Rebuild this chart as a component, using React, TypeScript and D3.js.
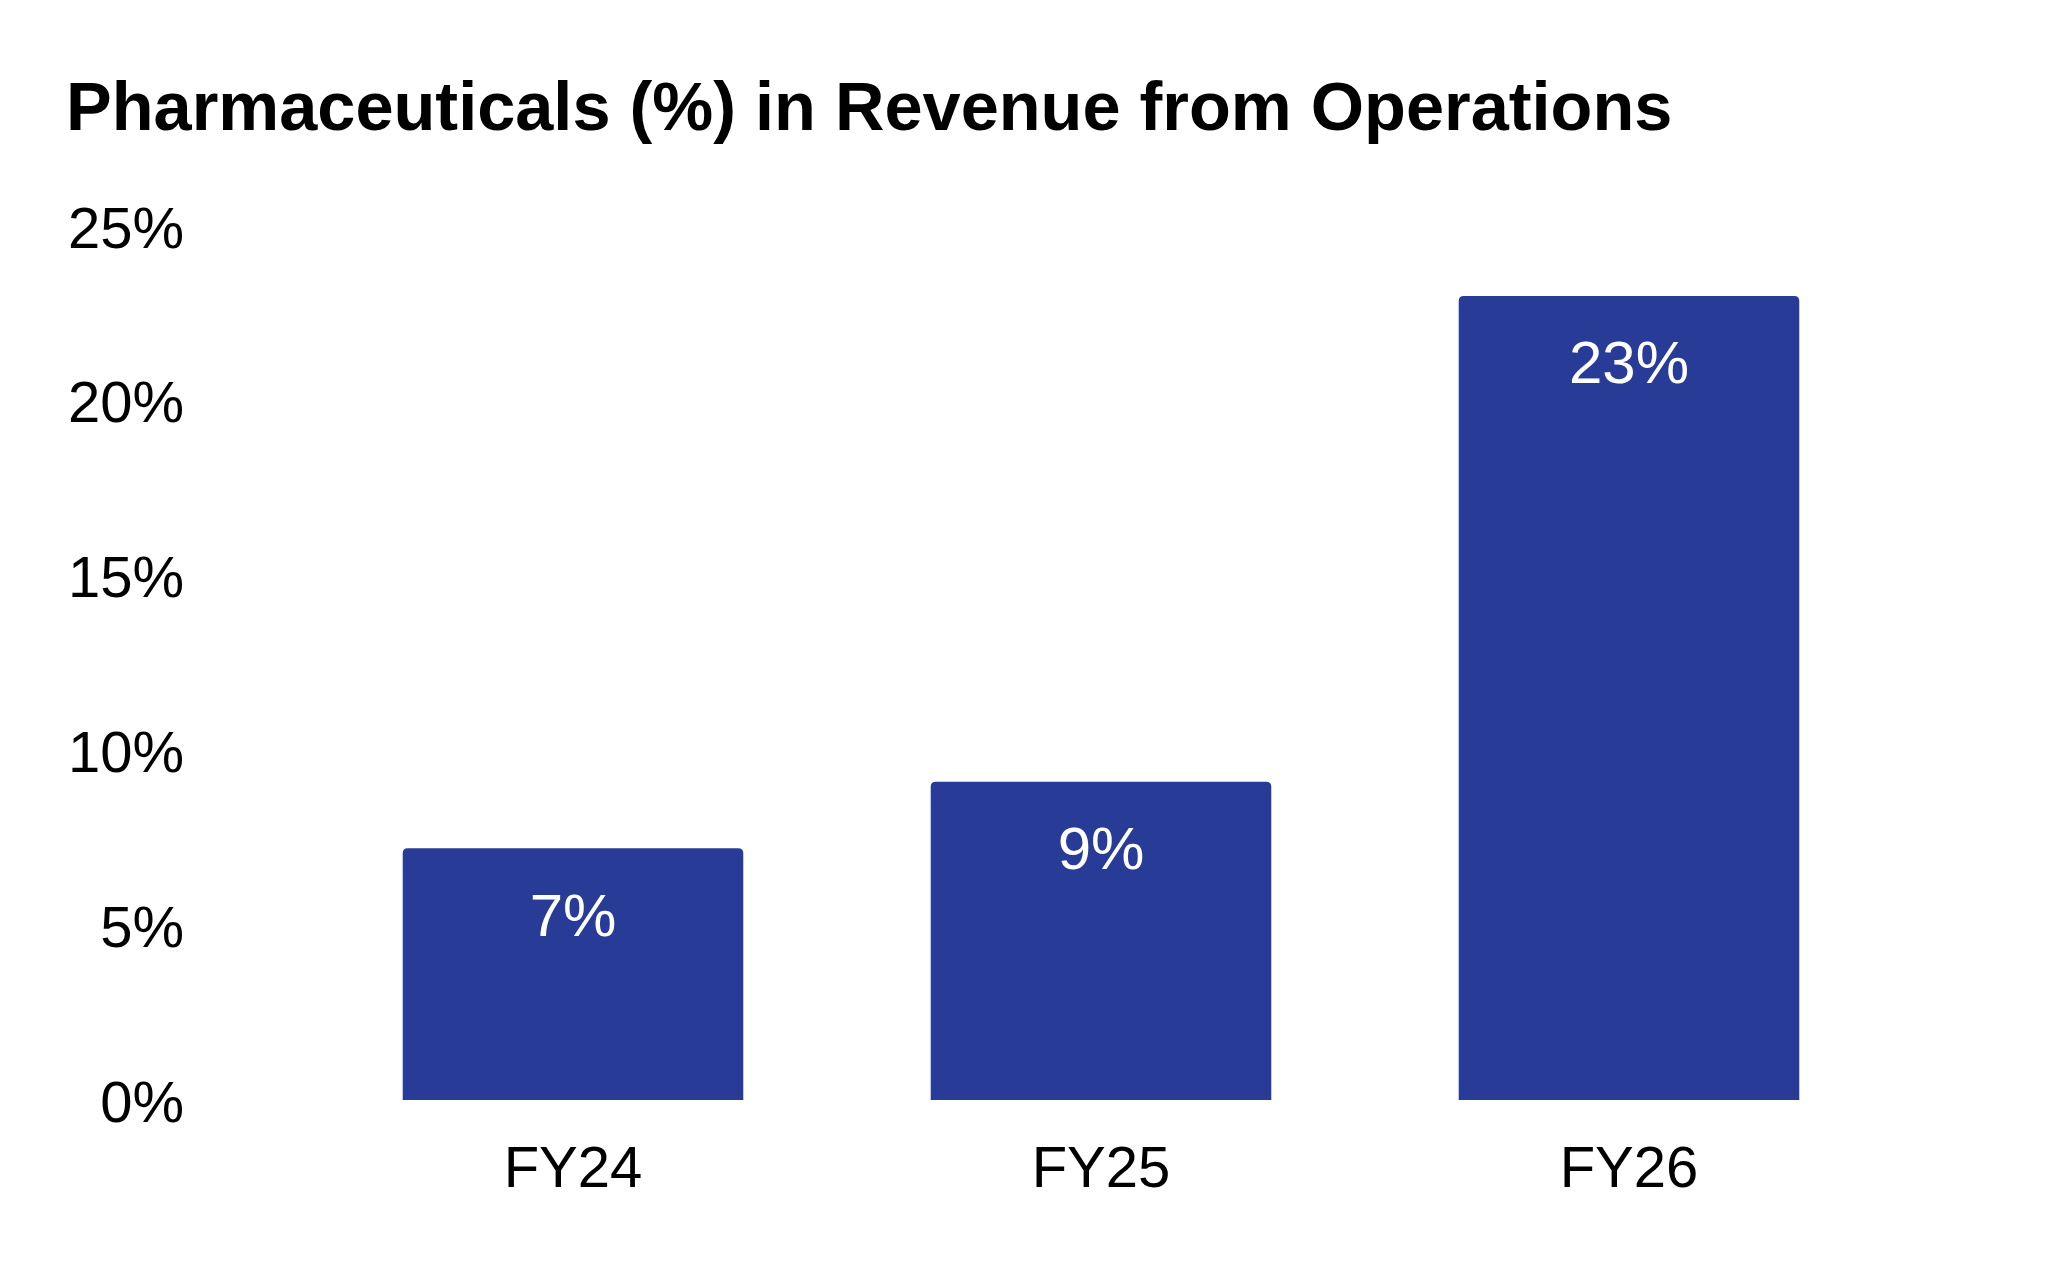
import * as d3 from "d3";

const categories = ["FY24", "FY25", "FY26"];
const values = [7.2, 9.1, 23.0];
const valueLabels = ["7%", "9%", "23%"];
const yTicks = [0, 5, 10, 15, 20, 25];

const width = 2048;
const height = 1266;
const font = "'Liberation Sans', Arial, Helvetica, sans-serif";
const barColor = "#283b96";

// top-rounded bar outline
const barPath = (x: number, y: number, w: number, h: number, r: number) =>
  `M${x},${y + h}V${y + r}Q${x},${y} ${x + r},${y}H${x + w - r}Q${x + w},${y} ${x + w},${y + r}V${y + h}Z`;

export default function App() {
  const x = d3
    .scaleBand<string>()
    .domain(categories)
    .range([309, 1893])
    .paddingInner(0.355)
    .paddingOuter(0.1775);

  const y = d3.scaleLinear().domain([0, 25]).range([1100, 226]);

  return (
    <svg width={width} height={height} style={{ display: "block", margin: "-8px" }}>
      <rect width={width} height={height} fill="#fff" />
      <text x={66} y={130} fontFamily={font} fontWeight="bold" fontSize={68.5} fill="#000">
        Pharmaceuticals (%) in Revenue from Operations
      </text>

      {yTicks.map((t) => (
        <text
          key={t}
          x={184}
          y={y(t) + 1}
          textAnchor="end"
          dominantBaseline="central"
          fontFamily={font}
          fontSize={58}
          fill="#000"
        >
          {`${t}%`}
        </text>
      ))}

      {categories.map((c, i) => {
        const bx = x(c) as number;
        const bw = x.bandwidth();
        const top = y(values[i]);
        return (
          <g key={c}>
            <path d={barPath(bx, top, bw, y(0) - top, 5)} fill={barColor} />
            <text
              x={bx + bw / 2}
              y={top + 67}
              textAnchor="middle"
              dominantBaseline="central"
              fontFamily={font}
              fontSize={60}
              fill="#fff"
            >
              {valueLabels[i]}
            </text>
            <text
              x={bx + bw / 2}
              y={1166}
              textAnchor="middle"
              dominantBaseline="central"
              fontFamily={font}
              fontSize={58}
              fill="#000"
            >
              {c}
            </text>
          </g>
        );
      })}
    </svg>
  );
}
